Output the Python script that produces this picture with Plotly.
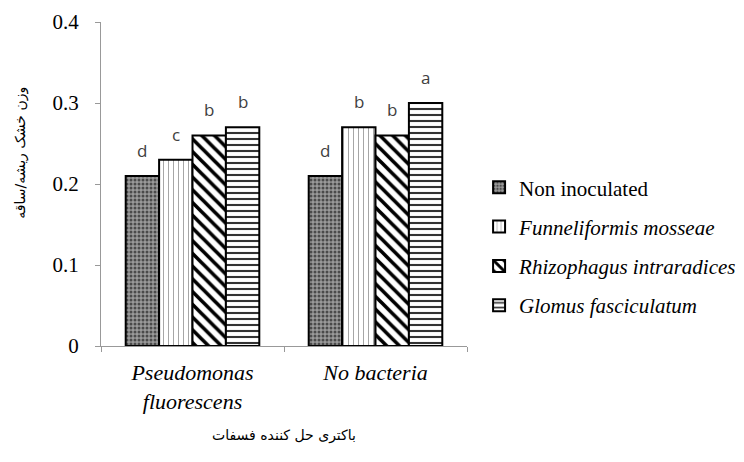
import plotly.graph_objects as go

categories = ["Pseudomonas<br>fluorescens", "No bacteria"]
series_names = ["Non inoculated", "Funneliformis mosseae", "Rhizophagus intraradices", "Glomus fasciculatum"]
legend_labels = ["Non inoculated", "<i>Funneliformis mosseae</i>", "<i>Rhizophagus intraradices</i>", "<i>Glomus fasciculatum</i>"]
values = [
    [0.21, 0.21],
    [0.23, 0.27],
    [0.26, 0.26],
    [0.27, 0.30],
]
letters = [
    ["d", "d"],
    ["c", "b"],
    ["b", "b"],
    ["b", "a"],
]
y_title = "وزن خشک ریشه/ساقه"
x_title = "باکتری حل کننده فسفات"

patterns = [
    dict(shape=".", fgcolor="#4a4a4a", bgcolor="#9a9a9a", size=4, solidity=0.45),
    dict(shape="|", fgcolor="#888888", bgcolor="white", size=5, solidity=0.15),
    dict(shape="\\", fgcolor="black", bgcolor="white", size=9, solidity=0.4),
    dict(shape="-", fgcolor="#333333", bgcolor="white", size=6, solidity=0.35),
]

SERIF = "Times New Roman, Liberation Serif, serif"
bargap = 0.27
bar_w = (1 - bargap) / len(series_names)

fig = go.Figure()
for si, (name, lab, vals, let, pat) in enumerate(zip(series_names, legend_labels, values, letters, patterns)):
    fig.add_trace(go.Bar(
        x=categories, y=vals, name=lab, legendgroup=name,
        marker=dict(color=pat["bgcolor"], line=dict(color="black", width=2),
                    pattern=dict(fillmode="replace", **pat)),
    ))
    # significance letters above each bar
    for ci, (v, t) in enumerate(zip(vals, let)):
        fig.add_annotation(x=ci + (si - 1.5) * bar_w, y=v, text=t,
                           showarrow=False, yanchor="bottom", yshift=12,
                           font=dict(family="Open Sans", size=17, color="#404040"))

# y title sits a bit above the plot centre, like the original
fig.add_annotation(xref="paper", yref="paper", x=-0.219, y=0.596, text=y_title,
                   textangle=-90, showarrow=False, xanchor="center", yanchor="middle",
                   font=dict(family="DejaVu Sans", size=14, color="black"))

fig.update_layout(
    width=744, height=462,
    margin=dict(l=93, r=285, t=14, b=124, autoexpand=False),
    paper_bgcolor="white", plot_bgcolor="white",
    barmode="group", bargap=bargap, bargroupgap=0,
    font=dict(family=SERIF, size=17, color="black"),
    legend=dict(x=1.033, y=0.552, xanchor="left", yanchor="top",
                font=dict(family=SERIF, size=21, color="black"),
                tracegroupgap=9, itemwidth=30),
    showlegend=True,
)
fig.update_yaxes(
    range=[0, 0.4], dtick=0.1, tickformat="~g", automargin=False,
    showgrid=False, zeroline=False,
    showline=True, linecolor="#999", linewidth=1,
    ticks="outside", ticklen=5, tickcolor="#999",
    ticklabelstandoff=12,
    tickfont=dict(family=SERIF, size=21),
)
fig.update_xaxes(
    automargin=False,
    showgrid=False, showline=True, linecolor="#999", linewidth=1,
    ticks="outside", tickson="boundaries", ticklen=5, tickcolor="#999",
    ticklabelstandoff=7,
    tickfont=dict(family=SERIF, size=22, style="italic"),
    title=dict(text=x_title, standoff=17,
               font=dict(family="DejaVu Sans", size=14)),
)

fig.write_html("out.html")
